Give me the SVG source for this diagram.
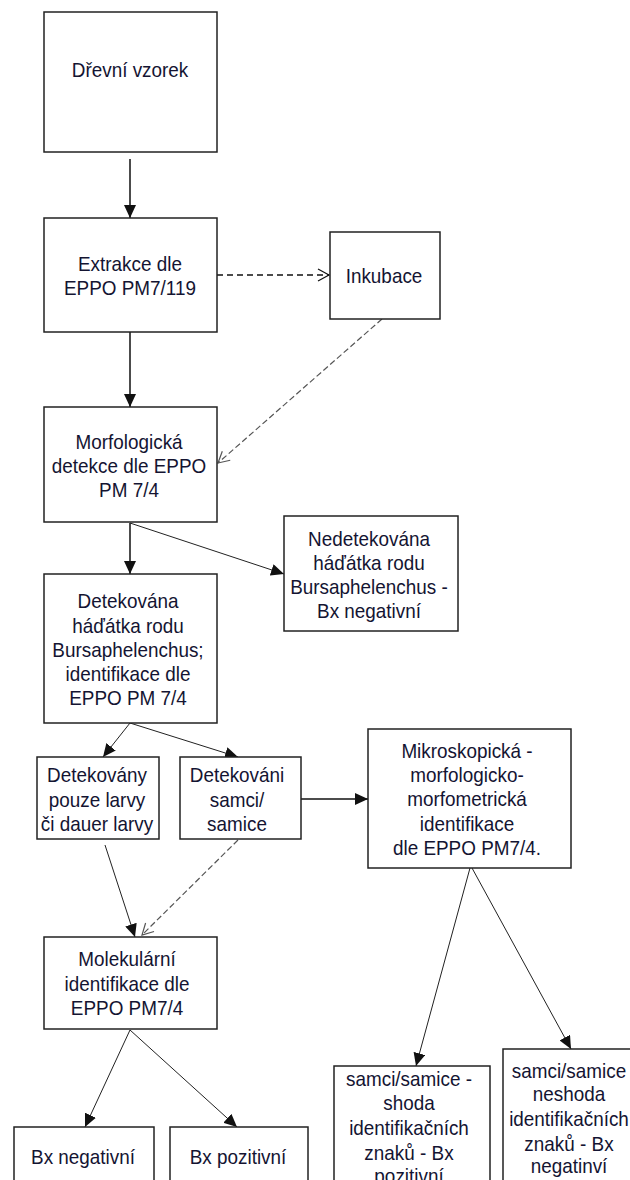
<svg xmlns="http://www.w3.org/2000/svg" width="630" height="1180" viewBox="0 0 630 1180">
<style>
.box{fill:#fff;stroke:#222;stroke-width:1.5}
.t{font-family:"Liberation Sans",Arial,sans-serif;font-size:21px;fill:#141432;text-anchor:middle;transform-box:fill-box;transform-origin:center;transform:scaleX(0.9)}
.solid{fill:none;stroke:#111;stroke-width:1.5}
.thin{fill:none;stroke:#222;stroke-width:1}
.dash{fill:none;stroke:#111;stroke-width:1.3;stroke-dasharray:6 4}
.gdash{fill:none;stroke:#555;stroke-width:1.2;stroke-dasharray:6 3}
</style>
<defs>
<marker id="fa" markerUnits="userSpaceOnUse" markerWidth="14" markerHeight="12" refX="13" refY="6" orient="auto"><path d="M0,0 L13,6 L0,12 Z" fill="#111"/></marker>
<marker id="oa" markerUnits="userSpaceOnUse" markerWidth="14" markerHeight="14" refX="12" refY="7" orient="auto"><path d="M1,1 L12,7 L1,13" fill="none" stroke="#111" stroke-width="1.2"/></marker>
<marker id="ga" markerUnits="userSpaceOnUse" markerWidth="14" markerHeight="14" refX="12" refY="7" orient="auto"><path d="M1,1 L12,7 L1,13" fill="none" stroke="#555" stroke-width="1.2"/></marker>
</defs>
<rect width="630" height="1180" fill="#fff"/>
<g id="connectors">
<path class="solid" d="M130 159 V218" marker-end="url(#fa)"/>
<path class="dash" d="M217 275 H329" marker-end="url(#oa)"/>
<path class="gdash" d="M382 319 L218 463" marker-end="url(#ga)"/>
<path class="solid" d="M130 332 V407" marker-end="url(#fa)"/>
<path class="solid" d="M130 523 V574" marker-end="url(#fa)"/>
<path class="thin" d="M130 523 L284 574" marker-end="url(#fa)"/>
<path class="thin" d="M130 723 L103 757" marker-end="url(#fa)"/>
<path class="thin" d="M130 723 L238 757" marker-end="url(#fa)"/>
<path class="solid" d="M301 799 H368" marker-end="url(#fa)"/>
<path class="thin" d="M105 845 L135 937" marker-end="url(#fa)"/>
<path class="gdash" d="M238 840 L142 935" marker-end="url(#ga)"/>
<path class="thin" d="M130 1030 L85 1127" marker-end="url(#fa)"/>
<path class="thin" d="M130 1030 L237 1127" marker-end="url(#fa)"/>
<path class="thin" d="M470 868 L416 1066" marker-end="url(#fa)"/>
<path class="thin" d="M472 868 L571 1049" marker-end="url(#fa)"/>
</g>
<g id="n1"><rect class="box" x="44" y="12" width="173" height="140"/><text class="t" x="130" y="77">Dřevní vzorek</text></g>
<g id="n2"><rect class="box" x="44" y="218" width="173" height="114"/><text class="t" x="130" y="271">Extrakce dle</text><text class="t" x="130" y="295">EPPO PM7/119</text></g>
<g id="n3"><rect class="box" x="330" y="232" width="110" height="87"/><text class="t" x="384" y="283">Inkubace</text></g>
<g id="n4"><rect class="box" x="44" y="407" width="173" height="115"/><text class="t" x="129" y="449">Morfologická</text><text class="t" x="129" y="473">detekce dle EPPO</text><text class="t" x="129" y="497">PM 7/4</text></g>
<g id="n5"><rect class="box" x="284" y="516" width="174" height="115"/><text class="t" x="369" y="546">Nedetekována</text><text class="t" x="369" y="570">háďátka rodu</text><text class="t" x="369" y="594">Bursaphelenchus -</text><text class="t" x="369" y="618">Bx negativní</text></g>
<g id="n6"><rect class="box" x="44" y="574" width="173" height="149"/><text class="t" x="128" y="608">Detekována</text><text class="t" x="128" y="633">háďátka rodu</text><text class="t" x="128" y="657">Bursaphelenchus;</text><text class="t" x="128" y="681">identifikace dle</text><text class="t" x="128" y="705">EPPO PM 7/4</text></g>
<g id="n7"><rect class="box" x="37" y="757" width="122" height="82"/><text class="t" x="97" y="782">Detekovány</text><text class="t" x="97" y="807">pouze larvy</text><text class="t" x="97" y="831">či dauer larvy</text></g>
<g id="n8"><rect class="box" x="180" y="757" width="121" height="82"/><text class="t" x="237" y="782">Detekováni</text><text class="t" x="237" y="807">samci/</text><text class="t" x="237" y="831">samice</text></g>
<g id="n9"><rect class="box" x="368" y="729" width="203" height="139"/><text class="t" x="467" y="758">Mikroskopická -</text><text class="t" x="467" y="782">morfologicko-</text><text class="t" x="467" y="806">morfometrická</text><text class="t" x="467" y="831">identifikace</text><text class="t" x="467" y="855">dle EPPO PM7/4.</text></g>
<g id="n10"><rect class="box" x="44" y="937" width="173" height="92"/><text class="t" x="127" y="966">Molekulární</text><text class="t" x="127" y="991">identifikace dle</text><text class="t" x="127" y="1015">EPPO PM7/4</text></g>
<g id="n11"><rect class="box" x="14" y="1127" width="140" height="70"/><text class="t" x="83" y="1164">Bx negativní</text></g>
<g id="n12"><rect class="box" x="170" y="1127" width="138" height="70"/><text class="t" x="238" y="1164">Bx pozitivní</text></g>
<g id="n13"><rect class="box" x="334" y="1066" width="156" height="130"/><text class="t" x="409" y="1086">samci/samice -</text><text class="t" x="409" y="1110">shoda</text><text class="t" x="409" y="1135">identifikačních</text><text class="t" x="409" y="1160">znaků - Bx</text><text class="t" x="409" y="1183">pozitivní</text></g>
<g id="n14"><rect class="box" x="503" y="1049" width="135" height="140"/><text class="t" x="569" y="1078">samci/samice</text><text class="t" x="569" y="1101">neshoda</text><text class="t" x="569" y="1126">identifikačních</text><text class="t" x="569" y="1151">znaků - Bx</text><text class="t" x="569" y="1173">negatinví</text></g>
</svg>
